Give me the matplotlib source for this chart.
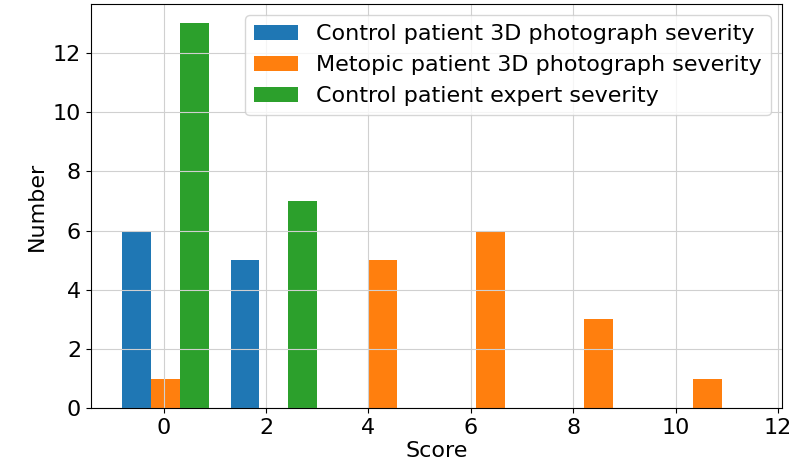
"""
Severity score histogram: 3D photograph vs expert scoring
"""

# %% Imports

import numpy as np
import matplotlib
matplotlib.use('Agg')
import matplotlib.pyplot as plt


# %% Binned counts per group

bin_edges = np.linspace(-1.02, 11.67, 7)

control_photo = [6, 5, 0, 0, 0, 0]
metopic_photo = [1, 0, 5, 6, 3, 1]
control_expert = [13, 7, 0, 0, 0, 0]

labels = ['Control patient 3D photograph severity',
          'Metopic patient 3D photograph severity',
          'Control patient expert severity']


# %% Plot

plt.rcParams['font.size'] = 16

centres = (bin_edges[:-1] + bin_edges[1:]) / 2

fig = plt.figure(figsize=(8.11, 4.67), dpi=100)
ax = fig.add_axes([0.112, 0.126, 0.852, 0.865])

ax.hist([centres, centres, centres],
        bins=bin_edges,
        weights=[control_photo, metopic_photo, control_expert],
        label=labels)

ax.set_title('Severity scores, 3D photograph, expert rating', pad=7)
ax.set_xlabel('Score', labelpad=2)
ax.set_ylabel('Number')
ax.set_xticks([0, 2, 4, 6, 8, 10, 12])
ax.grid(True, color='#d0d0d0')
ax.legend(loc='upper right')

fig.savefig('out.png', dpi=100)
